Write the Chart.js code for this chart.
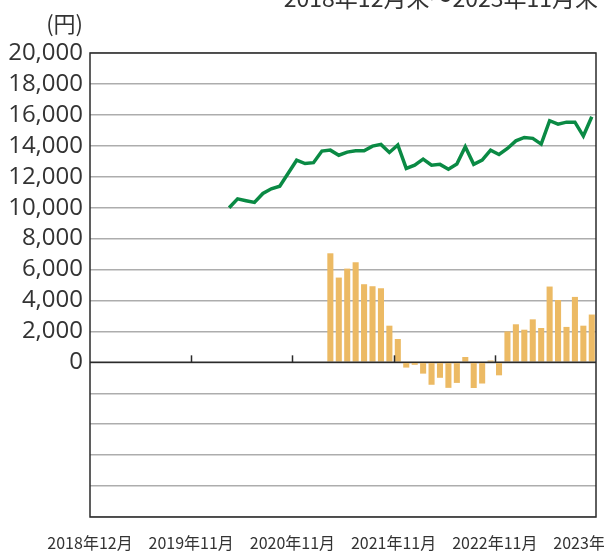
<!DOCTYPE html>
<html>
<head>
<meta charset="utf-8">
<script src="https://cdn.jsdelivr.net/npm/chart.js@4.4.1/dist/chart.umd.min.js"></script>
<style>
  html, body { margin: 0; padding: 0; background: #fff; }
  #wrap { position: relative; width: 604px; height: 554px; overflow: hidden; }
  #title { position: absolute; right: 6px; top: -20px; font: 23px "Noto Sans CJK JP"; color: #333; white-space: nowrap; }
  #unit { position: absolute; right: 521px; top: 6px; font: 22px "Noto Sans CJK JP"; color: #333; white-space: nowrap; }
  canvas { position: absolute; left: 0; top: 0; }
</style>
</head>
<body>
<div id="wrap">
  <canvas id="chart" width="604" height="554"></canvas>
  <div id="title">2018年12月末～2023年11月末</div>
  <div id="unit">(円)</div>
</div>
<script>
// monthly categories, 2018年12月 .. 2023年11月
var months = [];
for (var i = 0; i < 60; i++) {
    var m = (12 + i - 1) % 12 + 1;
    var y = 2018 + Math.floor((12 + i - 1) / 12);
    months.push(y + '年' + m + '月');
}

// year marks on the bottom axis (every 12 months)
var xTickLabels = ['2018年12月', '2019年11月', '2020年11月', '2021年11月', '2022年11月', '2023年11月'];

// line: price (円)
var priceValues = [
    null, null, null, null, null, null, null, null, null, null, null, null,
    null, null, null, null,
    10000, 10570, 10450, 10340, 10920, 11220, 11390, 12230,
    13070, 12850, 12910, 13660, 13720, 13390, 13590, 13680, 13680, 13980, 14090, 13570,
    14050, 12540, 12750, 13140, 12750, 12800, 12490, 12820, 13940, 12800, 13070, 13720,
    13440, 13830, 14320, 14540, 14480, 14110, 15620, 15400, 15530, 15530, 14630, 15880
];

// bars: change (円)
var changeValues = [
    null, null, null, null, null, null, null, null, null, null, null, null,
    null, null, null, null, null, null, null, null, null, null, null, null,
    null, null, null, null,
    7050, 5480, 6060, 6470, 5050, 4920, 4790, 2370,
    1510, -340, -160, -730, -1450, -1000, -1650, -1330, 345, -1660, -1370, 120,
    -840, 2000, 2460, 2110, 2780, 2220, 4900, 4030, 2290, 4230, 2370, 3090
];

var font = '"Noto Sans CJK JP", "Noto Sans", sans-serif';

var framePlugin = {
    id: 'frame',
    afterDatasetsDraw: function(chart) {
        var ctx = chart.ctx;
        var a = chart.chartArea;
        var x2 = chart.scales.x2;
        var y0 = chart.scales.y.getPixelForValue(0);
        ctx.save();
        ctx.strokeStyle = '#2b2b2b';
        ctx.lineWidth = 1.5;
        // zero line
        ctx.beginPath();
        ctx.moveTo(a.left, y0);
        ctx.lineTo(a.right, y0);
        ctx.stroke();
        // small year ticks on the zero line
        for (var k = 1; k < xTickLabels.length - 1; k++) {
            var px = Math.round(x2.getPixelForValue(k * 12)) + 0.5;
            ctx.beginPath();
            ctx.moveTo(px, y0);
            ctx.lineTo(px, y0 - 7);
            ctx.stroke();
        }
        // frame
        ctx.strokeRect(a.left, a.top, a.right - a.left, a.bottom - a.top);
        ctx.restore();
    }
};

var ctx = document.getElementById('chart').getContext('2d');
var chart = new Chart(ctx, {
    type: 'bar',
    data: {
        labels: months,
        datasets: [
            {
                type: 'line',
                data: priceValues,
                borderColor: '#0a8a44',
                borderWidth: 3.5,
                pointRadius: 0,
                fill: false,
                tension: 0,
                order: 0
            },
            {
                type: 'bar',
                data: changeValues,
                backgroundColor: '#ecba64',
                categoryPercentage: 1,
                barPercentage: 0.72,
                order: 1
            }
        ]
    },
    options: {
        responsive: false,
        animation: false,
        devicePixelRatio: 1,
        layout: { padding: { top: 53, right: 8, left: 0, bottom: 0 } },
        plugins: {
            legend: { display: false },
            tooltip: { enabled: false }
        },
        scales: {
            x: {
                type: 'category',
                display: false,
                offset: true
            },
            x2: {
                type: 'linear',
                position: 'bottom',
                offset: false,
                min: 0,
                max: 60,
                grid: { display: false, drawTicks: false, offset: false },
                border: { display: false },
                ticks: {
                    stepSize: 12,
                    autoSkip: false,
                    maxRotation: 0,
                    padding: 16,
                    color: '#333',
                    font: { family: font, size: 16 },
                    callback: function(v) { return xTickLabels[v / 12]; }
                },
                afterFit: function(s) { s.height = 37; s.paddingLeft = 0; s.paddingRight = 0; }
            },
            y: {
                min: -10000,
                max: 20000,
                grid: { color: '#adadad', lineWidth: 1.5, drawTicks: false },
                border: { display: false },
                ticks: {
                    stepSize: 2000,
                    autoSkip: false,
                    padding: 7,
                    color: '#333',
                    font: { family: '"Open Sans", sans-serif', size: 24 },
                    callback: function(v) { return v >= 0 ? v.toLocaleString('en-US') : ''; }
                },
                afterFit: function(s) { s.width = 90; s.paddingTop = 0; s.paddingBottom = 0; }
            }
        }
    },
    plugins: [framePlugin]
});
</script>
</body>
</html>
